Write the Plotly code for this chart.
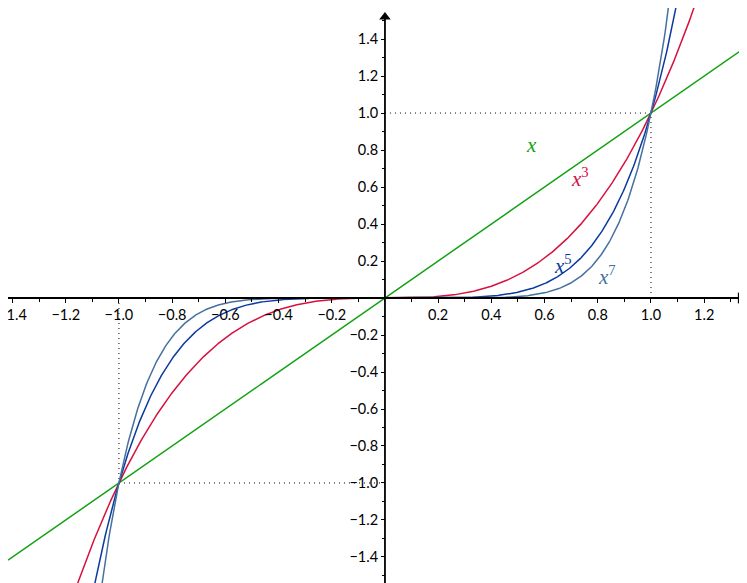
import numpy as np
import plotly.graph_objects as go

# Curves y = x^n
exponents = [1, 3, 5, 7]
curve_names = ["x", "x³", "x⁵", "x⁷"]
curve_colors = ["#13a213", "#d6113f", "#0b3a9e", "#46709f"]
label_x = [0.55, 0.735, 0.67, 0.835]
label_y = [0.83, 0.65, 0.18, 0.12]
label_text = ["<i>x</i>", "<i>x</i><sup>3</sup>", "<i>x</i><sup>5</sup>", "<i>x</i><sup>7</sup>"]

# Points where the curves meet
cross_x = [1.0, -1.0]
cross_y = [1.0, -1.0]

xticks = [-1.4, -1.2, -1.0, -0.8, -0.6, -0.4, -0.2, 0.2, 0.4, 0.6, 0.8, 1.0, 1.2]
yticks = [-1.4, -1.2, -1.0, -0.8, -0.6, -0.4, -0.2, 0.2, 0.4, 0.6, 0.8, 1.0, 1.2, 1.4]

# page has an 8px body margin, so the ranges are shifted to keep the origin in place
x_range = [-1.417, 1.391]
y_range = [-1.584, 1.568]

xs = np.linspace(x_range[0], x_range[1], 800)

fig = go.Figure()

# dotted guides to (1,1) and (-1,-1)
for cx, cy in zip(cross_x, cross_y):
    fig.add_trace(go.Scatter(
        x=[0, cx, cx], y=[cy, cy, 0],
        mode='lines',
        line=dict(color='black', width=1, dash='1px,4px'),
        hoverinfo='skip', showlegend=False
    ))

for n, name, color in zip(exponents, curve_names, curve_colors):
    fig.add_trace(go.Scatter(
        x=xs, y=xs ** n,
        mode='lines',
        line=dict(color=color, width=1.5),
        name=name, showlegend=False
    ))

# curve labels
for lx, ly, txt, color in zip(label_x, label_y, label_text, curve_colors):
    fig.add_annotation(
        x=lx, y=ly, text=txt, showarrow=False,
        font=dict(family="Liberation Serif", size=21, color=color)
    )

# axis lines with arrow heads
fig.add_trace(go.Scatter(
    x=[-1.5, 1.336], y=[0, 0], mode='lines',
    line=dict(color='black', width=1.8),
    hoverinfo='skip', showlegend=False, cliponaxis=False
))
fig.add_trace(go.Scatter(
    x=[1.336], y=[0], mode='markers',
    marker=dict(symbol='triangle-right', size=10, color='black'),
    hoverinfo='skip', showlegend=False, cliponaxis=False
))
fig.add_trace(go.Scatter(
    x=[0, 0], y=[-1.7, 1.52], mode='lines',
    line=dict(color='black', width=1.8),
    hoverinfo='skip', showlegend=False, cliponaxis=False
))
fig.add_trace(go.Scatter(
    x=[0], y=[1.52], mode='markers',
    marker=dict(symbol='triangle-up', size=10, color='black'),
    hoverinfo='skip', showlegend=False, cliponaxis=False
))

# place axes through the origin
x_pos = (0 - y_range[0]) / (y_range[1] - y_range[0])
y_pos = (0 - x_range[0]) / (x_range[1] - x_range[0])

tick_font = dict(family="Lato", size=14.5, color='black')

fig.update_layout(
    width=747, height=583,
    margin=dict(t=0, b=0, l=0, r=0),
    plot_bgcolor='white',
    paper_bgcolor='white',
    showlegend=False,
    xaxis=dict(
        range=x_range, anchor='free', position=x_pos,
        showgrid=False, zeroline=False, showline=False, automargin=False,
        tickvals=xticks, ticktext=[f"{v:.1f}".replace('-', '\u2212') for v in xticks],
        ticks='outside', ticklen=4, tickcolor='black', tickwidth=1,
        ticklabeloverflow='allow',
        minor=dict(dtick=0.1, tick0=0, ticks='outside', ticklen=3, tickcolor='black', showgrid=False),
        tickfont=tick_font
    ),
    yaxis=dict(
        range=y_range, anchor='free', position=y_pos,
        showgrid=False, zeroline=False, showline=False, automargin=False,
        tickvals=yticks, ticktext=[f"{v:.1f}".replace('-', '\u2212') for v in yticks],
        ticks='outside', ticklen=4, tickcolor='black', tickwidth=1,
        ticklabeloverflow='allow',
        minor=dict(dtick=0.1, tick0=0, ticks='outside', ticklen=3, tickcolor='black', showgrid=False),
        tickfont=tick_font
    )
)

fig.write_html("out.html")
